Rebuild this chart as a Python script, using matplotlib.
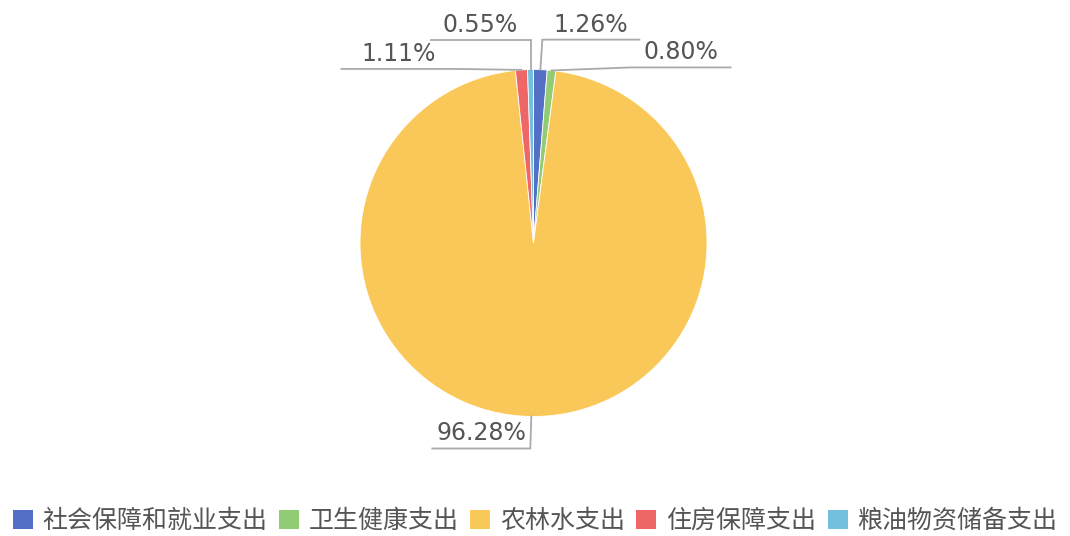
import numpy as np
import matplotlib.pyplot as plt
from matplotlib.patches import Patch

# data
categories = ['社会保障和就业支出', '卫生健康支出', '农林水支出', '住房保障支出', '粮油物资储备支出']
shares = [1.26, 0.80, 96.28, 1.11, 0.55]
colors = ['#5470c6', '#91cc75', '#fac858', '#ee6666', '#73c0de']

# leader line layout per slice: first segment offset (px) and horizontal run (px, sign = direction)
elbows = [(2, 30), (79, 3), (-1, -32), (-65, 1), (0, 30)]
runs = [97, 100, -98, -115, -100]

fig = plt.figure(figsize=(10.7, 5.36), dpi=100)
ax = fig.add_axes([0, 0, 1, 1])

wedges, _ = ax.pie(shares, colors=colors, startangle=90, counterclock=False,
                   center=(533.5, 293), radius=173.5,
                   wedgeprops=dict(linewidth=0.6, edgecolor='white'))
ax.set_xlim(0, 1070)
ax.set_ylim(0, 536)
ax.set_aspect('equal')
ax.axis('off')

for w, val, (dx, dy), run in zip(wedges, shares, elbows, runs):
    mid = np.deg2rad((w.theta1 + w.theta2) / 2)
    cx, cy = w.center
    x0 = cx + w.r * np.cos(mid)
    y0 = cy + w.r * np.sin(mid)
    x1, y1 = x0 + dx, y0 + dy
    x2 = x1 + run
    ax.plot([x0, x1, x2], [y0, y1, y1], color='#aaaaaa', lw=1.3, solid_joinstyle='miter')
    ax.text((x1 + x2) / 2, y1 + 3, f'{val:.2f}%', ha='center', va='bottom',
            fontsize=17, color='#555555', family='DejaVu Sans')

handles = [Patch(facecolor=c, edgecolor='none') for c in colors]
leg = fig.legend(handles, categories, loc='center', bbox_to_anchor=(0.5, 0.028),
                 ncol=5, frameon=False, handlelength=0.8, handleheight=0.8,
                 handletextpad=0.4, columnspacing=0.45,
                 prop={'family': ['Noto Sans CJK SC', 'DejaVu Sans'], 'size': 18})
for t in leg.get_texts():
    t.set_color('#555555')

fig.savefig('out.png', dpi=100)
